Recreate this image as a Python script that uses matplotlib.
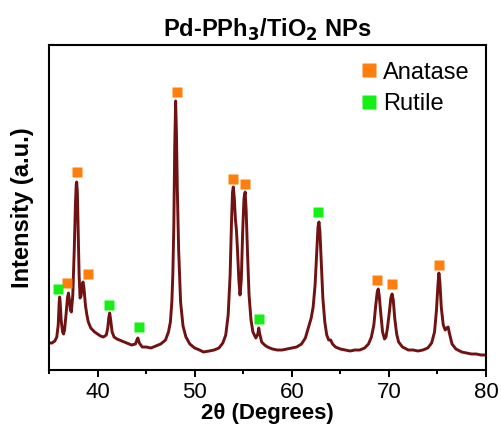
import matplotlib
matplotlib.use("Agg")
import matplotlib.pyplot as plt
from matplotlib.lines import Line2D

plt.rcParams['font.family'] = ['Liberation Sans', 'DejaVu Sans']

# XRD trace: 2-theta (degrees) and intensity (a.u.)
two_theta = [
    35.0, 35.3, 35.6, 35.8, 35.95, 36.05, 36.1, 36.15, 36.25, 36.4, 36.5, 36.6,
    36.75, 36.9, 37.0, 37.1, 37.2, 37.3, 37.45, 37.6, 37.72, 37.8, 37.85, 37.92,
    38.0, 38.1, 38.2, 38.3, 38.42, 38.5, 38.6, 38.75, 38.9, 39.05, 39.3, 39.7,
    40.0, 40.3, 40.6, 40.9, 41.05, 41.15, 41.25, 41.35, 41.5, 41.7, 42.0, 42.5,
    43.0, 43.5, 43.9, 44.05, 44.15, 44.3, 44.6, 45.0, 45.5, 46.0, 46.5, 47.0,
    47.3, 47.5, 47.65, 47.75, 47.85, 47.95, 48.04, 48.12, 48.22, 48.35, 48.55,
    48.8, 49.1, 49.5, 50.0, 50.5, 50.9, 51.5, 52.0, 52.5, 52.9, 53.2, 53.45,
    53.65, 53.8, 53.9, 53.98, 54.08, 54.2, 54.3, 54.4, 54.55, 54.67, 54.8, 54.95,
    55.08, 55.2, 55.3, 55.45, 55.6, 55.8, 56.0, 56.3, 56.5, 56.6, 56.7, 56.9,
    57.2, 57.5, 58.0, 58.5, 59.0, 59.5, 60.0, 60.5, 61.0, 61.4, 61.7, 62.0,
    62.2, 62.4, 62.55, 62.7, 62.8, 62.9, 63.05, 63.2, 63.4, 63.6, 63.8, 64.0,
    64.2, 64.5, 65.0, 65.5, 66.0, 66.5, 67.0, 67.5, 67.9, 68.2, 68.45, 68.65,
    68.8, 68.9, 69.0, 69.15, 69.35, 69.55, 69.7, 69.85, 70.05, 70.2, 70.33,
    70.45, 70.6, 70.8, 71.0, 71.4, 72.0, 72.5, 73.0, 73.5, 74.0, 74.4, 74.7,
    74.9, 75.05, 75.15, 75.25, 75.4, 75.6, 75.8, 75.95, 76.1, 76.25, 76.5, 76.9,
    77.5, 78.0, 78.5, 79.0, 79.5, 80.0,
]
intensity = [
    27, 27, 29, 33, 45, 68, 73, 68, 50, 38, 36, 40,
    55, 72, 77, 70, 60, 58, 75, 120, 165, 185, 188, 178,
    140, 95, 72, 74, 85, 88, 82, 65, 55, 48, 42, 38,
    36, 34, 33, 35, 42, 52, 57, 50, 38, 33, 31, 29,
    27, 25, 26, 30, 32, 27, 23, 23, 22, 24, 26, 30,
    38, 48, 68, 95, 142, 225, 269, 238, 178, 120, 68,
    44, 33, 26, 22, 20, 18, 19, 20, 22, 27, 35, 55,
    95, 150, 178, 183, 172, 150, 140, 122, 90, 75, 90, 140,
    172, 178, 160, 115, 75, 50, 38, 32, 36, 42, 36, 28,
    25, 23, 21, 20, 20, 21, 22, 23, 26, 32, 42, 52,
    63, 85, 115, 143, 148, 138, 105, 72, 48, 35, 30, 30,
    26, 23, 21, 20, 19, 20, 20, 22, 26, 33, 45, 65,
    78, 81, 75, 58, 38, 31, 33, 42, 58, 72, 76,
    70, 52, 36, 28, 23, 20, 20, 19, 20, 22, 27, 38,
    60, 85, 97, 88, 62, 45, 40, 42, 43, 36, 26, 21,
    18, 17, 16, 16, 15, 15,
]

# Phase markers (square symbols above the indexed reflections)
anatase_x = [36.9, 37.85, 39.05, 48.15, 53.95, 55.2, 68.75, 70.3, 75.2]
anatase_y = [87, 198, 96, 278, 191, 186, 90, 86, 105]
rutile_x = [35.9, 41.2, 44.25, 56.6, 62.75]
rutile_y = [81, 65, 43, 51, 158]

xticks_major = [40, 50, 60, 70, 80]
xticks_minor = [35, 45, 55, 65, 75]

line_color = '#701212'
anatase_color = '#ff7f0e'
rutile_color = '#14f014'

fig = plt.figure(figsize=(5.01, 4.30), dpi=100)
ax = fig.add_axes([49 / 501, 60 / 430, 437 / 501, 325 / 430])

ax.plot(two_theta, intensity, color=line_color, lw=2.1, zorder=2)
ax.plot(anatase_x, anatase_y, 's', color=anatase_color, ms=7, mec='none', zorder=3)
ax.plot(rutile_x, rutile_y, 's', color=rutile_color, ms=7, mec='none', zorder=3)

ax.set_xlim(35, 80)
ax.set_ylim(0, 325)
ax.set_xticks(xticks_major)
ax.set_xticks(xticks_minor, minor=True)
ax.set_yticks([])
ax.tick_params(axis='x', which='major', direction='out', length=5, width=1.4,
               labelsize=16, pad=4)
ax.tick_params(axis='x', which='minor', direction='out', length=3, width=1.4)
for s in ax.spines.values():
    s.set_linewidth(1.5)

ax.set_xlabel('2\u03b8 (Degrees)', fontsize=16, fontweight='bold', labelpad=0)
ax.set_ylabel('Intensity (a.u.)', fontsize=17, fontweight='bold')
ax.yaxis.set_label_coords(-0.034, 0.5)
ax.set_title('Pd-PPh$_\\mathbf{3}$/TiO$_\\mathbf{2}$ NPs', fontsize=17,
             fontweight='bold', pad=6)

handles = [
    Line2D([], [], marker='s', ls='none', color=anatase_color, mec='none', ms=9.5),
    Line2D([], [], marker='s', ls='none', color=rutile_color, mec='none', ms=9.5),
]
ax.legend(handles, ['Anatase', 'Rutile'], loc='upper right', frameon=False,
          fontsize=17, handletextpad=0.1, handlelength=1.0, labelspacing=0.4,
          borderaxespad=0.4, borderpad=0.3)

fig.savefig('out.png', dpi=100)
